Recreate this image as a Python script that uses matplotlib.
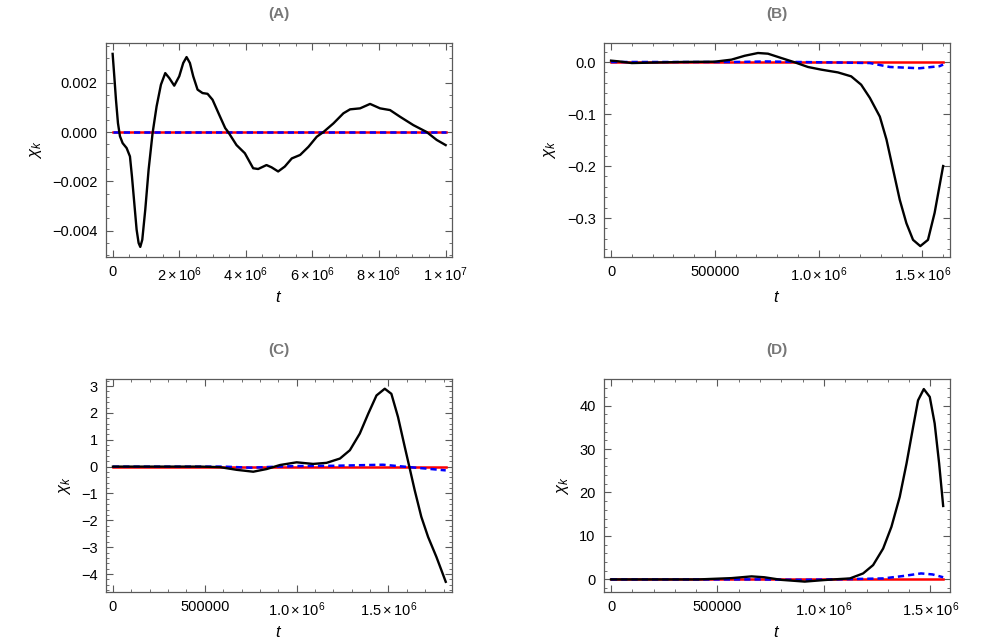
import matplotlib.pyplot as plt
from matplotlib.ticker import MultipleLocator, FixedLocator, FixedFormatter

plt.rcParams["font.family"] = ["Liberation Sans", "DejaVu Sans"]
plt.rcParams["mathtext.fontset"] = "custom"
plt.rcParams["mathtext.rm"] = "Liberation Sans"
plt.rcParams["mathtext.it"] = "Liberation Sans:italic"

# fmt: off
# Panel A
tA = [0, 5e4, 1e5, 1.6e5, 2.2e5, 3.0e5, 4.2e5, 5.2e5, 5.8e5, 6.5e5, 7.2e5, 7.8e5, 8.3e5,
      8.9e5, 9.8e5, 1.08e6, 1.2e6, 1.32e6, 1.45e6, 1.58e6, 1.7e6, 1.85e6, 2.0e6, 2.12e6,
      2.22e6, 2.32e6, 2.42e6, 2.55e6, 2.7e6, 2.85e6, 3.0e6, 3.2e6, 3.38e6, 3.47e6,
      3.72e6, 3.97e6, 4.22e6, 4.37e6, 4.62e6, 4.77e6, 4.97e6, 5.17e6, 5.38e6, 5.63e6,
      5.88e6, 6.13e6, 6.33e6, 6.63e6, 6.93e6, 7.13e6, 7.43e6, 7.73e6, 8.03e6, 8.33e6,
      8.63e6, 9.03e6, 9.43e6, 9.73e6, 1.0e7]
chiA = [0.00317, 0.00226, 0.00131, 0.00036, -0.00017, -0.00045, -0.00065, -0.00099,
        -0.0018, -0.00288, -0.00396, -0.0045, -0.00466, -0.00437, -0.00315, -0.00153,
        -0.00004, 0.00104, 0.00192, 0.00239, 0.00219, 0.00188, 0.00226, 0.0028, 0.00304,
        0.0028, 0.00226, 0.00172, 0.00158, 0.00155, 0.00131, 0.0007, 0.00016, 0.0,
        -0.00053, -0.00086, -0.00147, -0.0015, -0.00134, -0.00143, -0.0016, -0.0014,
        -0.00107, -0.00093, -0.0006, -0.00019, 0.0, 0.00035, 0.00076, 0.00092, 0.00096,
        0.00114, 0.00096, 0.00089, 0.00062, 0.00028, 0.0, -0.00032, -0.00053]
tA_ref = [0, 1.0e7]
redA = [0, 0]
blueA = [0, 0]

# Panel B
tB = [0, 3.5e4, 1e5, 1.8e5, 3.4e5, 5e5, 5.8e5, 6.44e5, 7.08e5, 7.56e5, 8.2e5, 8.85e5,
      9.49e5, 1.013e6, 1.093e6, 1.157e6, 1.205e6, 1.247e6, 1.295e6, 1.327e6, 1.359e6,
      1.391e6, 1.423e6, 1.455e6, 1.49e6, 1.527e6, 1.559e6, 1.60e6]
chiB = [0.0026, 0.0013, -0.002, -0.0013, 0.0, 0.0006, 0.0045, 0.012, 0.0173, 0.016,
        0.0077, -0.0006, -0.0096, -0.0147, -0.020, -0.0276, -0.0436, -0.069, -0.105,
        -0.149, -0.207, -0.265, -0.310, -0.342, -0.354, -0.342, -0.29, -0.20]
tB_blue = [0, 6e5, 7.5e5, 9e5, 1.1e6, 1.247e6, 1.343e6, 1.487e6, 1.583e6, 1.6e6]
blueB = [0, 0, 0.001, 0, -0.001, -0.002, -0.0096, -0.012, -0.008, -0.005]
tB_red = [0, 1.6e6]
redB = [0, 0]

# Panel C
tC = [0, 4.75e5, 5.83e5, 6.74e5, 7.64e5, 8.37e5, 9.1e5, 1.0e6, 1.09e6, 1.163e6, 1.236e6,
      1.29e6, 1.344e6, 1.39e6, 1.435e6, 1.48e6, 1.516e6, 1.552e6, 1.589e6, 1.616e6,
      1.643e6, 1.679e6, 1.716e6, 1.761e6, 1.788e6, 1.812e6]
chiC = [0, 0, -0.02, -0.12, -0.19, -0.09, 0.06, 0.16, 0.10, 0.14, 0.30, 0.61, 1.23, 1.97,
        2.65, 2.90, 2.71, 1.85, 0.73, -0.07, -0.88, -1.87, -2.62, -3.36, -3.85, -4.29]
tC_blue = [0, 6e5, 7.5e5, 9e5, 1.0e6, 1.2e6, 1.47e6, 1.616e6, 1.7e6, 1.812e6]
blueC = [0, 0, -0.04, 0.0, 0.02, 0.03, 0.07, -0.02, -0.07, -0.14]
tC_red = [0, 1.812e6]
redC = [0, 0]

# Panel D
tD = [0, 4.1e5, 5.66e5, 6.6e5, 7.2e5, 8.0e5, 9.1e5, 1.0e6, 1.06e6, 1.122e6, 1.184e6,
      1.231e6, 1.278e6, 1.317e6, 1.356e6, 1.388e6, 1.419e6, 1.442e6, 1.469e6, 1.497e6,
      1.52e6, 1.541e6, 1.56e6]
chiD = [0, 0, 0.3, 0.7, 0.5, -0.1, -0.5, -0.15, 0.05, 0.23, 1.38, 3.3, 7.1, 12.1, 19.0,
        26.7, 35.1, 41.2, 43.8, 42.0, 35.9, 26.7, 16.9]
tD_blue = [0, 7e5, 9e5, 1.1e6, 1.278e6, 1.37e6, 1.456e6, 1.51e6, 1.56e6]
blueD = [0, 0, -0.1, 0.05, 0.23, 0.77, 1.38, 1.15, 0.5]
tD_red = [0, 1.56e6]
redD = [0, 0]
# fmt: on

fig = plt.figure(figsize=(9.96, 6.44), dpi=100)

frame_col = "#5a5a5a"


def setup(ax, title, xlim, ylim, xmin, ymaj, ymin, xticks, xlabels, yfmt):
    ax.set_xlim(*xlim)
    ax.set_ylim(*ylim)
    ax.xaxis.set_major_locator(FixedLocator(xticks))
    ax.xaxis.set_major_formatter(FixedFormatter(xlabels))
    ax.xaxis.set_minor_locator(MultipleLocator(xmin))
    ax.yaxis.set_major_locator(MultipleLocator(ymaj))
    ax.yaxis.set_minor_locator(MultipleLocator(ymin))
    ax.yaxis.set_major_formatter(yfmt)
    ax.tick_params(which="both", direction="in", top=True, right=True,
                   color=frame_col, labelsize=10.5, pad=6)
    ax.tick_params(which="major", length=5, width=0.8)
    ax.tick_params(which="minor", length=2.5, width=0.6)
    for s in ax.spines.values():
        s.set_color(frame_col)
        s.set_linewidth(0.9)
    ax.set_xlabel(r"$\mathit{t}$", fontsize=12, labelpad=4)
    ax.set_ylabel(r"$\chi_k$", fontsize=12, labelpad=6)
    ax.set_title(title, fontsize=11, fontweight="bold", color="#777777", pad=18)


def draw(ax, t, chi, tr, red, tb, blue):
    ax.plot(tr, red, color="red", lw=1.8)
    ax.plot(tb, blue, color="blue", lw=1.8, ls=(0, (2.5, 1.6)))
    ax.plot(t, chi, color="black", lw=1.7, solid_joinstyle="round")


t_ticks = [0, 5e5, 1e6, 1.5e6]
t_labels = ["0", "500000", r"$1.0\times10^{6}$", r"$1.5\times10^{6}$"]

axA = fig.add_axes([0.1064, 0.6009, 0.3474, 0.3323])
draw(axA, tA, chiA, tA_ref, redA, tA_ref, blueA)
setup(axA, "(A)", (-2e5, 1.019e7), (-0.00507, 0.00361), 5e5, 0.002, 0.0005,
      [0, 2e6, 4e6, 6e6, 8e6, 1e7],
      ["0", r"$2\times10^{6}$", r"$4\times10^{6}$", r"$6\times10^{6}$",
       r"$8\times10^{6}$", r"$1\times10^{7}$"],
      plt.FuncFormatter(lambda v, p: f"{v:.3f}".replace("-", "\u2212")))

axB = fig.add_axes([0.6064, 0.6009, 0.3474, 0.3323])
draw(axB, tB, chiB, tB_red, redB, tB_blue, blueB)
setup(axB, "(B)", (-3.4e4, 1.633e6), (-0.375, 0.0365), 1e5, 0.1, 0.02,
      t_ticks, t_labels,
      plt.FuncFormatter(lambda v, p: f"{v:.1f}".replace("-", "\u2212")))

axC = fig.add_axes([0.1064, 0.0807, 0.3474, 0.3307])
draw(axC, tC, chiC, tC_red, redC, tC_blue, blueC)
setup(axC, "(C)", (-3.8e4, 1.846e6), (-4.67, 3.26), 1e5, 1, 0.2,
      t_ticks, t_labels,
      plt.FuncFormatter(lambda v, p: f"{v:.0f}".replace("-", "\u2212")))

axD = fig.add_axes([0.6064, 0.0807, 0.3474, 0.3307])
draw(axD, tD, chiD, tD_red, redD, tD_blue, blueD)
setup(axD, "(D)", (-3.3e4, 1.592e6), (-2.9, 46.1), 1e5, 10, 2,
      t_ticks, t_labels,
      plt.FuncFormatter(lambda v, p: f"{v:.0f}".replace("-", "\u2212")))

fig.savefig("out.png", dpi=100)
